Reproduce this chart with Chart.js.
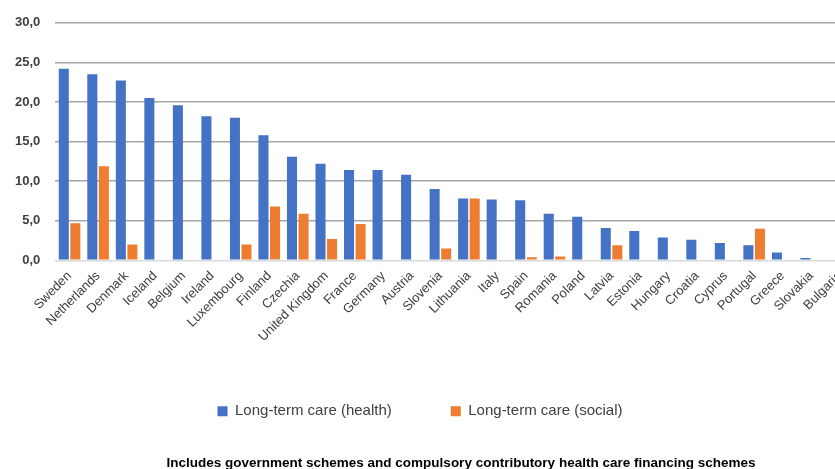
<!DOCTYPE html>
<html>
<head>
<meta charset="utf-8">
<script src="https://cdn.jsdelivr.net/npm/chart.js@4.4.0/dist/chart.umd.min.js"></script>
<style>
  html, body { margin: 0; padding: 0; background: #fff; overflow: hidden; }
  #wrap { width: 920px; height: 469px; }
</style>
</head>
<body>
<div id="wrap"><canvas id="myChart" width="920" height="469"></canvas></div>
<script>
// paises ordenados pelo valor de saude
var countries = ["Sweden", "Netherlands", "Denmark", "Iceland", "Belgium", "Ireland", "Luxembourg",
  "Finland", "Czechia", "United Kingdom", "France", "Germany", "Austria", "Slovenia", "Lithuania",
  "Italy", "Spain", "Romania", "Poland", "Latvia", "Estonia", "Hungary", "Croatia", "Cyprus",
  "Portugal", "Greece", "Slovakia", "Bulgaria"];
var healthValues = [24.2, 23.5, 22.7, 20.5, 19.6, 18.2, 18.0, 15.8, 13.1, 12.2, 11.4, 11.4, 10.8,
  9.0, 7.8, 7.7, 7.6, 5.9, 5.5, 4.1, 3.7, 2.9, 2.6, 2.2, 1.9, 1.0, 0.3, 0.1];
var socialValues = [4.7, 11.9, 2.0, 0, 0, 0, 2.0, 6.8, 5.9, 2.7, 4.6, 0.1, 0, 1.5, 7.8,
  0, 0.4, 0.5, 0, 1.9, 0, 0, 0, 0, 4.0, 0.1, 0, 0];
var yTicks = [0, 5, 10, 15, 20, 25, 30];
var seriesNames = ["Long-term care (health)", "Long-term care (social)"];
var caption = "Includes government schemes and compulsory contributory health care financing schemes";

var boxShift = {
  id: 'boxShift',
  afterLayout: function(chart){
    // ajustar a posicao da legenda e do texto de rodape
    chart.legend.left -= 7;
    chart.legend.right -= 7;
    chart.titleBlock.left += 34;
    chart.titleBlock.right += 34;
  }
};

var ctx = document.getElementById('myChart').getContext('2d');
var myChart = new Chart(ctx, {
  type: 'bar',
  data: {
    labels: countries,
    datasets: [
      {
        label: seriesNames[0],
        data: healthValues,
        backgroundColor: '#4472C4',
        barPercentage: 0.87,
        categoryPercentage: 0.81
      },
      {
        label: seriesNames[1],
        data: socialValues,
        backgroundColor: '#ED7D31',
        barPercentage: 0.87,
        categoryPercentage: 0.81
      }
    ]
  },
  options: {
    responsive: false,
    animation: false,
    layout: { padding: { top: 16, left: 0, right: 66, bottom: 0 } },
    scales: {
      x: {
        grid: { display: false },
        border: { color: '#d9d9d9', width: 1 },
        ticks: {
          autoSkip: false,
          minRotation: 45,
          maxRotation: 45,
          color: '#404040',
          padding: 0,
          font: { family: 'Liberation Sans', size: 13 }
        }
      },
      y: {
        min: 0,
        max: 30,
        afterBuildTicks: function(axis){
          axis.ticks = yTicks.map(function(v){ return { value: v }; });
        },
        border: { display: false },
        grid: {
          drawTicks: false,
          lineWidth: 1.5,
          color: function(c){ return c.tick && c.tick.value === 0 ? '#d9d9d9' : '#a6a6a6'; }
        },
        ticks: {
          padding: 15,
          color: '#404040',
          font: { family: 'Liberation Sans', size: 13, weight: 'bold' },
          callback: function(v){ return Number(v).toFixed(1).replace('.', ','); }
        }
      }
    },
    plugins: {
      legend: {
        position: 'bottom',
        labels: {
          boxWidth: 10,
          boxHeight: 10,
          padding: 59,
          color: '#404040',
          font: { family: 'Liberation Sans', size: 15 }
        }
      },
      title: {
        display: true,
        position: 'bottom',
        text: caption,
        color: '#000',
        padding: { top: 26, bottom: -2 },
        font: { family: 'Liberation Sans', size: 13.5, weight: 'bold' }
      },
      tooltip: { enabled: false }
    }
  },
  plugins: [boxShift]
});
</script>
</body>
</html>
